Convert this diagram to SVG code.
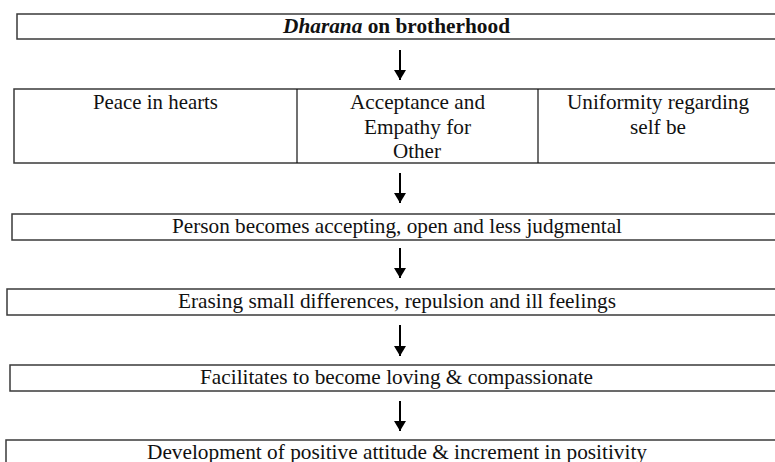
<svg xmlns="http://www.w3.org/2000/svg" width="775" height="462" viewBox="0 0 775 462">
<defs>
<style>
.box{fill:#fff;stroke:#3a3a3a;stroke-width:1.5}
.t{font-family:'Liberation Serif','Times New Roman',serif;font-size:21px;fill:#111;text-anchor:middle}
.b{font-weight:bold}
.conn line{stroke:#000;stroke-width:2}
</style>
<marker id="ah" viewBox="0 0 10 12" refX="10" refY="6" markerWidth="10" markerHeight="12" markerUnits="userSpaceOnUse" orient="auto">
<path d="M0,0 L10,6 L0,12 Z" fill="#000"/>
</marker>
</defs>
<rect width="775" height="462" fill="#fff"/>
<g id="n1">
<rect class="box" x="17" y="14" width="770" height="25"/>
<text class="t b" x="396.5" y="33" textLength="227" lengthAdjust="spacingAndGlyphs"><tspan font-style="italic">Dharana</tspan> on brotherhood</text>
</g>
<g id="n2">
<rect class="box" x="14" y="89" width="770" height="74"/>
<line x1="297" y1="89" x2="297" y2="163" stroke="#111" stroke-width="1.2"/>
<line x1="538" y1="89" x2="538" y2="163" stroke="#111" stroke-width="1.2"/>
<text class="t" x="155.5" y="109" textLength="125" lengthAdjust="spacingAndGlyphs">Peace in hearts</text>
<text class="t" x="417.5" y="109" textLength="135" lengthAdjust="spacingAndGlyphs">Acceptance and</text>
<text class="t" x="417.5" y="134" textLength="107" lengthAdjust="spacingAndGlyphs">Empathy for</text>
<text class="t" x="417" y="158" textLength="48" lengthAdjust="spacingAndGlyphs">Other</text>
<text class="t" x="658" y="109" textLength="182" lengthAdjust="spacingAndGlyphs">Uniformity regarding</text>
<text class="t" x="658" y="134" textLength="56" lengthAdjust="spacingAndGlyphs">self be</text>
</g>
<g id="n3">
<rect class="box" x="12" y="214" width="775" height="26"/>
<text class="t" x="397" y="233" textLength="450" lengthAdjust="spacingAndGlyphs">Person becomes accepting, open and less judgmental</text>
</g>
<g id="n4">
<rect class="box" x="7" y="289" width="780" height="26"/>
<text class="t" x="397" y="308" textLength="438" lengthAdjust="spacingAndGlyphs">Erasing small differences, repulsion and ill feelings</text>
</g>
<g id="n5">
<rect class="box" x="10" y="365" width="777" height="26"/>
<text class="t" x="396.5" y="384" textLength="393" lengthAdjust="spacingAndGlyphs">Facilitates to become loving &amp; compassionate</text>
</g>
<g id="n6">
<rect class="box" x="6" y="440" width="780" height="30"/>
<text class="t" x="397" y="459" textLength="500" lengthAdjust="spacingAndGlyphs">Development of positive attitude &amp; increment in positivity</text>
</g>
<g id="connectors" class="conn">
<line x1="400" y1="50" x2="400" y2="80" marker-end="url(#ah)"/>
<line x1="400" y1="173" x2="400" y2="203" marker-end="url(#ah)"/>
<line x1="400" y1="248" x2="400" y2="278" marker-end="url(#ah)"/>
<line x1="400" y1="325" x2="400" y2="356" marker-end="url(#ah)"/>
<line x1="400" y1="401" x2="400" y2="431" marker-end="url(#ah)"/>
</g>
</svg>
